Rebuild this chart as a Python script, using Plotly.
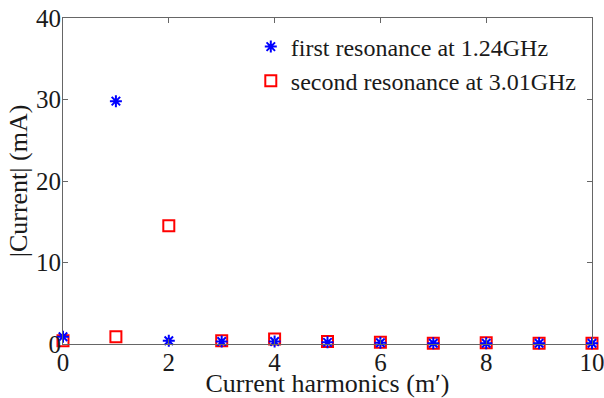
import plotly.graph_objects as go

# Harmonic index m'
harmonics = [0, 1, 2, 3, 4, 5, 6, 7, 8, 9, 10]
# |Current| in mA for each resonance
first_res = [0.9, 29.8, 0.4, 0.3, 0.3, 0.2, 0.15, 0.1, 0.1, 0.1, 0.1]
second_res = [0.4, 0.9, 14.5, 0.4, 0.6, 0.3, 0.2, 0.1, 0.15, 0.1, 0.1]

first_name = "first resonance at 1.24GHz"
second_name = "second resonance at 3.01GHz"

serif = "Liberation Serif, Times New Roman, serif"
ink = "#1a1a1a"

fig = go.Figure()
# squares drawn first so the stars sit on top of them
fig.add_trace(go.Scatter(
    x=harmonics, y=second_res, mode="markers", name=second_name,
    marker=dict(symbol="square-open", size=11, color="#ff0000",
                line=dict(color="#ff0000", width=2)),
    cliponaxis=False, legendrank=2,
))
fig.add_trace(go.Scatter(
    x=harmonics, y=first_res, mode="markers", name=first_name,
    marker=dict(symbol="asterisk-open", size=10, color="#0000ff",
                line=dict(color="#0000ff", width=2)),
    cliponaxis=False, legendrank=1,
))

axis_common = dict(
    showgrid=False, zeroline=False, showline=True, linecolor="#666666",
    linewidth=1, mirror="ticks", ticks="inside", ticklen=5,
    tickcolor="#666666", tickfont=dict(family=serif, size=25, color=ink),
    automargin=False, ticklabeloverflow="allow",
)

fig.update_layout(
    width=604, height=398,
    margin=dict(l=63, r=12, t=18, b=54),
    paper_bgcolor="white", plot_bgcolor="white",
    xaxis=dict(range=[0, 10], tickvals=[0, 2, 4, 6, 8, 10],
               ticklabelstandoff=-4,
               title=dict(text="Current harmonics (m\u2032)",
                          font=dict(family=serif, size=26, color=ink),
                          standoff=0),
               **axis_common),
    yaxis=dict(range=[0, 40], tickvals=[0, 10, 20, 30, 40],
               ticklabelstandoff=-4,
               title=dict(text="|Current| (mA)",
                          font=dict(family=serif, size=26, color=ink),
                          standoff=0),
               **axis_common),
    legend=dict(x=0.355, y=0.98, xanchor="left", yanchor="top",
                font=dict(family=serif, size=24, color=ink),
                bgcolor="rgba(255,255,255,0)", borderwidth=0,
                itemwidth=30),
    showlegend=True,
)

fig.write_html("out.html")
